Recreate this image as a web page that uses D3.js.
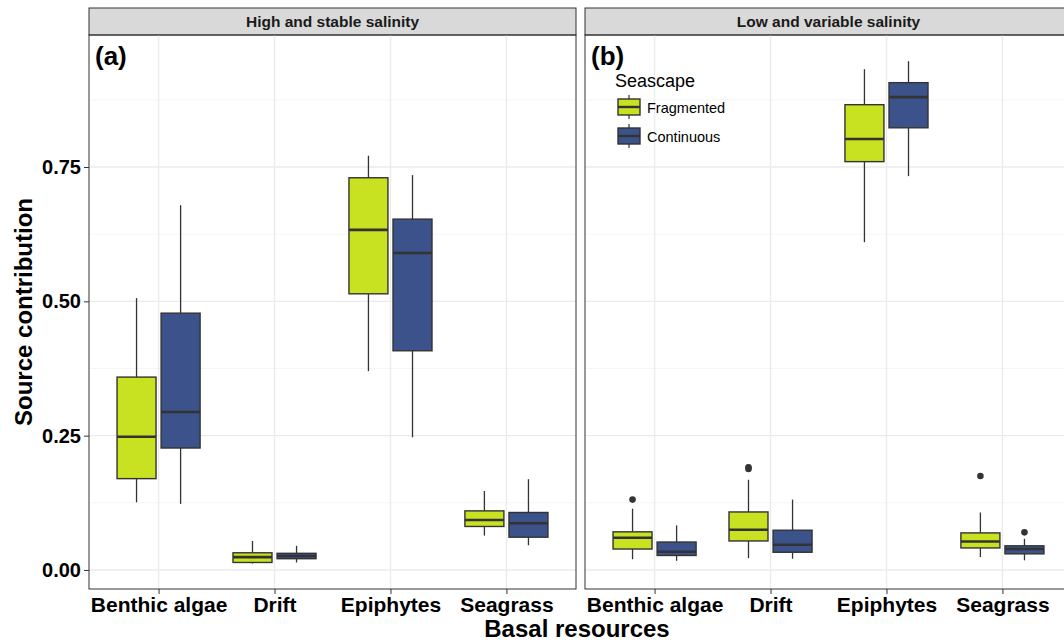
<!DOCTYPE html>
<html>
<head>
<meta charset="utf-8">
<script src="https://cdn.jsdelivr.net/npm/d3@7"></script>
<style>
  body { margin: 0; background: #fff; }
  svg { display: block; font-family: "Liberation Sans", Arial, sans-serif; }
</style>
</head>
<body>
<div id="chart"></div>
<script>
const panelTitles = ["High and stable salinity", "Low and variable salinity"]
const panelTags = ["(a)", "(b)"]
const categories = ["Benthic algae", "Drift", "Epiphytes", "Seagrass"]
const seascapes = ["Fragmented", "Continuous"]
const yTicks = [0, 0.25, 0.5, 0.75]
const yMinorTicks = [0.125, 0.375, 0.625, 0.875]

// [lower whisker, q1, median, q3, upper whisker] for each category
const highFragmented = [
  [0.126, 0.170, 0.248, 0.359, 0.506],
  [0.012, 0.014, 0.024, 0.032, 0.054],
  [0.370, 0.514, 0.633, 0.730, 0.771],
  [0.064, 0.081, 0.093, 0.110, 0.147]
]
const highContinuous = [
  [0.123, 0.227, 0.294, 0.478, 0.679],
  [0.014, 0.021, 0.026, 0.031, 0.045],
  [0.247, 0.408, 0.590, 0.653, 0.735],
  [0.046, 0.061, 0.087, 0.107, 0.169]
]
const lowFragmented = [
  [0.020, 0.039, 0.060, 0.071, 0.114],
  [0.022, 0.054, 0.075, 0.108, 0.168],
  [0.610, 0.760, 0.802, 0.866, 0.932],
  [0.024, 0.041, 0.053, 0.069, 0.107]
]
const lowContinuous = [
  [0.017, 0.027, 0.034, 0.052, 0.083],
  [0.021, 0.033, 0.047, 0.074, 0.131],
  [0.733, 0.823, 0.880, 0.907, 0.947],
  [0.018, 0.030, 0.039, 0.045, 0.058]
]
const highFragmentedOutliers = [[], [], [], []]
const highContinuousOutliers = [[], [], [], []]
const lowFragmentedOutliers = [[0.131], [0.191, 0.188], [], [0.175]]
const lowContinuousOutliers = [[], [], [], [0.070]]

const panelStats = [
  [highFragmented, highContinuous],
  [lowFragmented, lowContinuous]
]
const panelOutliers = [
  [highFragmentedOutliers, highContinuousOutliers],
  [lowFragmentedOutliers, lowContinuousOutliers]
]

const colors = d3.scaleOrdinal().domain(seascapes).range(["#c8e120", "#3b528b"])

const width = 1064
const height = 642
const margin = {top: 35, left: 89, bottom: 53}
const stripH = 27
const panelW = 487
const panelGap = 9
const panelH = height - margin.top - margin.bottom
const ink = "#333333"

const svg = d3.select("#chart").append("svg")
  .attr("width", width)
  .attr("height", height)

const y = d3.scaleLinear().domain([-0.0354, 0.9957]).range([panelH, 0])
const x = d3.scalePoint().domain(categories).range([0, panelW]).padding(0.6)
const step = x.step()
const dodge = d3.scaleBand().domain(seascapes).range([-0.38 * step, 0.38 * step])
const boxW = dodge.bandwidth() * 0.885

panelTitles.forEach((title, p) => {
  const left = margin.left + p * (panelW + panelGap)

  // strip
  svg.append("rect")
    .attr("x", left).attr("y", margin.top - stripH)
    .attr("width", panelW).attr("height", stripH)
    .attr("fill", "#d9d9d9").attr("stroke", ink).attr("stroke-width", 1)
  svg.append("text")
    .attr("x", left + panelW / 2).attr("y", margin.top - 8)
    .attr("text-anchor", "middle")
    .attr("font-size", 15.5).attr("font-weight", "bold").attr("fill", "#1a1a1a")
    .text(title)

  const g = svg.append("g").attr("transform", `translate(${left},${margin.top})`)

  // grid
  g.selectAll(".minor").data(yMinorTicks).join("line")
    .attr("x1", 0).attr("x2", panelW)
    .attr("y1", d => y(d)).attr("y2", d => y(d))
    .attr("stroke", "#f2f2f2").attr("stroke-width", 0.8)
  g.selectAll(".major").data(yTicks).join("line")
    .attr("x1", 0).attr("x2", panelW)
    .attr("y1", d => y(d)).attr("y2", d => y(d))
    .attr("stroke", "#ebebeb").attr("stroke-width", 1.4)
  g.selectAll(".vgrid").data(categories).join("line")
    .attr("x1", d => x(d)).attr("x2", d => x(d))
    .attr("y1", 0).attr("y2", panelH)
    .attr("stroke", "#ebebeb").attr("stroke-width", 1.4)

  // boxes
  seascapes.forEach((s, si) => {
    const stats = panelStats[p][si]
    const outs = panelOutliers[p][si]
    categories.forEach((c, ci) => {
      const [lo, q1, med, q3, hi] = stats[ci]
      const cx = x(c) + dodge(s) + dodge.bandwidth() / 2
      const bg = g.append("g")
      bg.append("line")
        .attr("x1", cx).attr("x2", cx).attr("y1", y(hi)).attr("y2", y(q3))
        .attr("stroke", ink).attr("stroke-width", 1.3)
      bg.append("line")
        .attr("x1", cx).attr("x2", cx).attr("y1", y(q1)).attr("y2", y(lo))
        .attr("stroke", ink).attr("stroke-width", 1.3)
      bg.append("rect")
        .attr("x", cx - boxW / 2).attr("y", y(q3))
        .attr("width", boxW).attr("height", y(q1) - y(q3))
        .attr("fill", colors(s)).attr("stroke", ink).attr("stroke-width", 1.4)
      bg.append("line")
        .attr("x1", cx - boxW / 2).attr("x2", cx + boxW / 2)
        .attr("y1", y(med)).attr("y2", y(med))
        .attr("stroke", ink).attr("stroke-width", 2.6)
      bg.selectAll("circle").data(outs[ci]).join("circle")
        .attr("cx", cx).attr("cy", d => y(d)).attr("r", 3.3)
        .attr("fill", ink)
    })
  })

  // panel border
  g.append("rect")
    .attr("width", panelW).attr("height", panelH)
    .attr("fill", "none").attr("stroke", ink).attr("stroke-width", 1)

  // x axis
  const xAxis = g.append("g")
    .attr("transform", `translate(0,${panelH})`)
    .call(d3.axisBottom(x).tickSize(5).tickPadding(3))
  xAxis.select(".domain").remove()
  xAxis.selectAll("line").attr("stroke", ink)
  xAxis.selectAll("text")
    .attr("font-size", 21).attr("font-weight", "bold").attr("fill", "#000")
    .attr("font-family", "Liberation Sans, Arial, sans-serif")

  // y axis only on the first panel
  if (p === 0) {
    const yAxis = g.append("g")
      .call(d3.axisLeft(y).tickValues(yTicks).tickFormat(d3.format(".2f")).tickSize(5).tickPadding(3))
    yAxis.select(".domain").remove()
    yAxis.selectAll("line").attr("stroke", ink)
    yAxis.selectAll("text")
      .attr("font-size", 20).attr("font-weight", "bold").attr("fill", "#000")
      .attr("font-family", "Liberation Sans, Arial, sans-serif")
  }

  // panel tag
  g.append("text")
    .attr("x", 6).attr("y", 30)
    .attr("font-size", 26).attr("font-weight", "bold").attr("fill", "#000")
    .text(panelTags[p])
})

// legend inside panel b
const legend = svg.append("g").attr("transform", `translate(${margin.left + panelW + panelGap + 30},0)`)
legend.append("text")
  .attr("x", 0).attr("y", 87)
  .attr("font-size", 18).attr("fill", "#000")
  .text("Seascape")
seascapes.forEach((s, i) => {
  const ky = 107 + i * 29
  legend.append("line")
    .attr("x1", 14).attr("x2", 14).attr("y1", ky - 12).attr("y2", ky + 12)
    .attr("stroke", ink).attr("stroke-width", 1.2)
  legend.append("rect")
    .attr("x", 3).attr("y", ky - 8).attr("width", 22).attr("height", 16)
    .attr("fill", colors(s)).attr("stroke", ink).attr("stroke-width", 1.4)
  legend.append("line")
    .attr("x1", 3).attr("x2", 25).attr("y1", ky).attr("y2", ky)
    .attr("stroke", ink).attr("stroke-width", 2.4)
  legend.append("text")
    .attr("x", 32).attr("y", ky + 6)
    .attr("font-size", 14.5).attr("fill", "#000")
    .text(s)
})

// axis titles
svg.append("text")
  .attr("x", 577).attr("y", 637)
  .attr("text-anchor", "middle")
  .attr("font-size", 24).attr("font-weight", "bold").attr("fill", "#000")
  .text("Basal resources")
svg.append("text")
  .attr("transform", `translate(32,${margin.top + panelH / 2}) rotate(-90)`)
  .attr("text-anchor", "middle")
  .attr("font-size", 24).attr("font-weight", "bold").attr("fill", "#000")
  .text("Source contribution")
</script>
</body>
</html>
